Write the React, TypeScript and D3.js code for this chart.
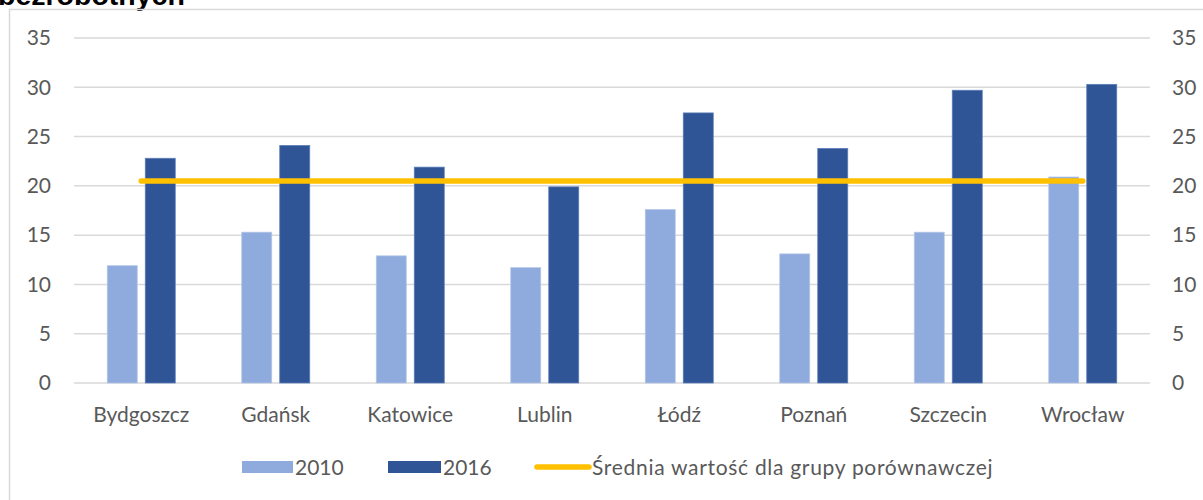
import React from "react";
import * as d3 from "d3";

const categories = ["Bydgoszcz", "Gdańsk", "Katowice", "Lublin", "Łódź", "Poznań", "Szczecin", "Wrocław"];
const values2010 = [11.9, 15.3, 12.9, 11.7, 17.6, 13.1, 15.3, 20.9];
const values2016 = [22.8, 24.1, 21.9, 19.9, 27.4, 23.8, 29.7, 30.3];
const average = [20.5, 20.5, 20.5, 20.5, 20.5, 20.5, 20.5, 20.5];
const yTicks = [0, 5, 10, 15, 20, 25, 30, 35];
const seriesNames = ["2010", "2016", "Średnia wartość dla grupy porównawczej"];

const W = 1203;
const H = 500;
const FONT = "Lato, 'Noto Sans', sans-serif";
const FS = 21;
const TXT = "#595959";
const C2010 = "#8FAADC";
const C2016 = "#2F5597";
const CAVG = "#FFC000";
const GRID = "#D9D9D9";

export default function App() {
  const x = d3.scaleBand<string>().domain(categories).range([74, 1150]);
  const y = d3.scaleLinear().domain([0, 35]).range([383, 38]);
  const bw = 30;
  const gap = 8;
  const line = d3
    .line<number>()
    .x((_, i) => (x(categories[i]) as number) + x.bandwidth() / 2)
    .y((d) => y(d));

  return (
    <svg
      width={W}
      height={H}
      style={{ position: "absolute", left: 0, top: 0, display: "block", background: "#fff" }}
    >
      <rect x={0} y={0} width={W} height={H} fill="#fff" />
      <text x={-2} y={5} fontFamily="'Liberation Sans', Arial, sans-serif" fontWeight="bold" fontSize={28.5} fill="#000">
        bezrobotnych
      </text>
      <rect x={9.5} y={9.5} width={1250} height={600} fill="none" stroke={GRID} strokeWidth={1.5} />
      {yTicks.map((t) => (
        <g key={t}>
          <line x1={74} x2={1150} y1={y(t)} y2={y(t)} stroke={GRID} strokeWidth={1.5} />
          <text x={51} y={y(t)} dy="0.35em" textAnchor="end" fontFamily={FONT} fontSize={FS} fill={TXT}>
            {t}
          </text>
          <text x={1172} y={y(t)} dy="0.35em" textAnchor="start" fontFamily={FONT} fontSize={FS} fill={TXT}>
            {t}
          </text>
        </g>
      ))}
      {categories.map((c, i) => {
        const cx = (x(c) as number) + x.bandwidth() / 2;
        return (
          <g key={c}>
            <rect
              x={cx - gap / 2 - bw}
              y={y(values2010[i])}
              width={bw}
              height={y(0) - y(values2010[i])}
              fill={C2010}
              stroke="#B4C7E7"
              strokeWidth={0.75}
            />
            <rect
              x={cx + gap / 2}
              y={y(values2016[i])}
              width={bw}
              height={y(0) - y(values2016[i])}
              fill={C2016}
              stroke="#5B7DB8"
              strokeWidth={0.75}
            />
            <text x={cx} y={422} textAnchor="middle" fontFamily={FONT} fontSize={FS} fill={TXT}>
              {c}
            </text>
          </g>
        );
      })}
      <path d={line(average) || ""} fill="none" stroke={CAVG} strokeWidth={5.5} strokeLinecap="round" />
      <g fontFamily={FONT} fontSize={FS} fill={TXT}>
        <rect x={242} y={461} width={51} height={12} fill={C2010} />
        <text x={295} y={474.5}>{seriesNames[0]}</text>
        <rect x={388} y={461} width={53} height={12} fill={C2016} />
        <text x={443} y={474.5}>{seriesNames[1]}</text>
        <line x1={537} x2={589} y1={467} y2={467} stroke={CAVG} strokeWidth={5.5} strokeLinecap="round" />
        <text x={592} y={474.5} letterSpacing={0.7}>{seriesNames[2]}</text>
      </g>
    </svg>
  );
}
